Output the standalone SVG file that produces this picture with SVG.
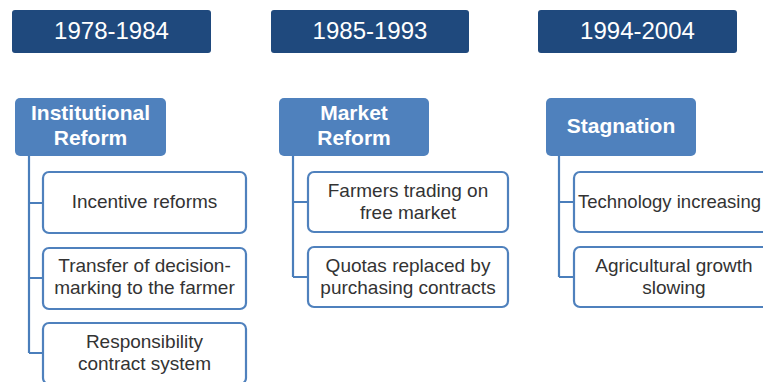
<svg xmlns="http://www.w3.org/2000/svg" width="763" height="382" viewBox="0 0 763 382">
<style>
.hdr{fill:#1F497D;}
.hdrt{fill:#fff;font-family:"Liberation Sans",Arial,sans-serif;font-size:24px;text-anchor:middle;}
.cat{fill:#4F81BD;}
.catt{fill:#fff;font-family:"Liberation Sans",Arial,sans-serif;font-size:21px;font-weight:bold;text-anchor:middle;}
.item{fill:#fff;stroke:#4F81BD;stroke-width:2.2;}
.itemt{fill:#333;font-family:"Liberation Sans",Arial,sans-serif;font-size:19px;text-anchor:middle;}
.conn{fill:none;stroke:#4A7EBB;stroke-width:2.2;}
</style>
<rect width="763" height="382" fill="#fff"/>
<g id="connectors">
<path class="conn" d="M29,156 V353 M29,203 H43 M29,278 H43 M29,353 H43"/>
<path class="conn" d="M293,156 V277 M293,202 H308 M293,277 H308"/>
<path class="conn" d="M559,156 V277 M559,202 H574 M559,277 H574"/>
</g>
<g id="h1"><rect class="hdr" x="12" y="10" width="199" height="43" rx="3"/><text class="hdrt" x="111.5" y="39">1978-1984</text></g>
<g id="h2"><rect class="hdr" x="271" y="10" width="198" height="43" rx="3"/><text class="hdrt" x="370" y="39">1985-1993</text></g>
<g id="h3"><rect class="hdr" x="538" y="10" width="199" height="43" rx="3"/><text class="hdrt" x="637.5" y="39">1994-2004</text></g>
<g id="c1"><rect class="cat" x="15" y="98" width="151" height="58" rx="5"/><text class="catt" x="90.5" y="120">Institutional</text><text class="catt" x="90.5" y="145">Reform</text></g>
<g id="c2"><rect class="cat" x="279" y="98" width="150" height="58" rx="5"/><text class="catt" x="354" y="120">Market</text><text class="catt" x="354" y="145">Reform</text></g>
<g id="c3"><rect class="cat" x="546" y="98" width="150" height="58" rx="5"/><text class="catt" x="621" y="133">Stagnation</text></g>
<g id="i11"><rect class="item" x="43" y="172" width="203" height="61" rx="6"/><text class="itemt" x="144.5" y="208">Incentive reforms</text></g>
<g id="i12"><rect class="item" x="43" y="248" width="203" height="61" rx="6"/><text class="itemt" x="144.5" y="272">Transfer of decision-</text><text class="itemt" x="144.5" y="294">marking to the farmer</text></g>
<g id="i13"><rect class="item" x="43" y="323" width="203" height="61" rx="6"/><text class="itemt" x="144.5" y="348">Responsibility</text><text class="itemt" x="144.5" y="370">contract system</text></g>
<g id="i21"><rect class="item" x="308" y="172" width="200" height="60" rx="6"/><text class="itemt" x="408" y="197">Farmers trading on</text><text class="itemt" x="408" y="219">free market</text></g>
<g id="i22"><rect class="item" x="308" y="247" width="200" height="60" rx="6"/><text class="itemt" x="408" y="272">Quotas replaced by</text><text class="itemt" x="408" y="294">purchasing contracts</text></g>
<g id="i31"><rect class="item" x="574" y="172" width="200" height="60" rx="6"/><text class="itemt" x="578" y="208" style="text-anchor:start;font-size:18.5px">Technology increasing</text></g>
<g id="i32"><rect class="item" x="574" y="247" width="200" height="60" rx="6"/><text class="itemt" x="674" y="272">Agricultural growth</text><text class="itemt" x="674" y="294">slowing</text></g>
</svg>
